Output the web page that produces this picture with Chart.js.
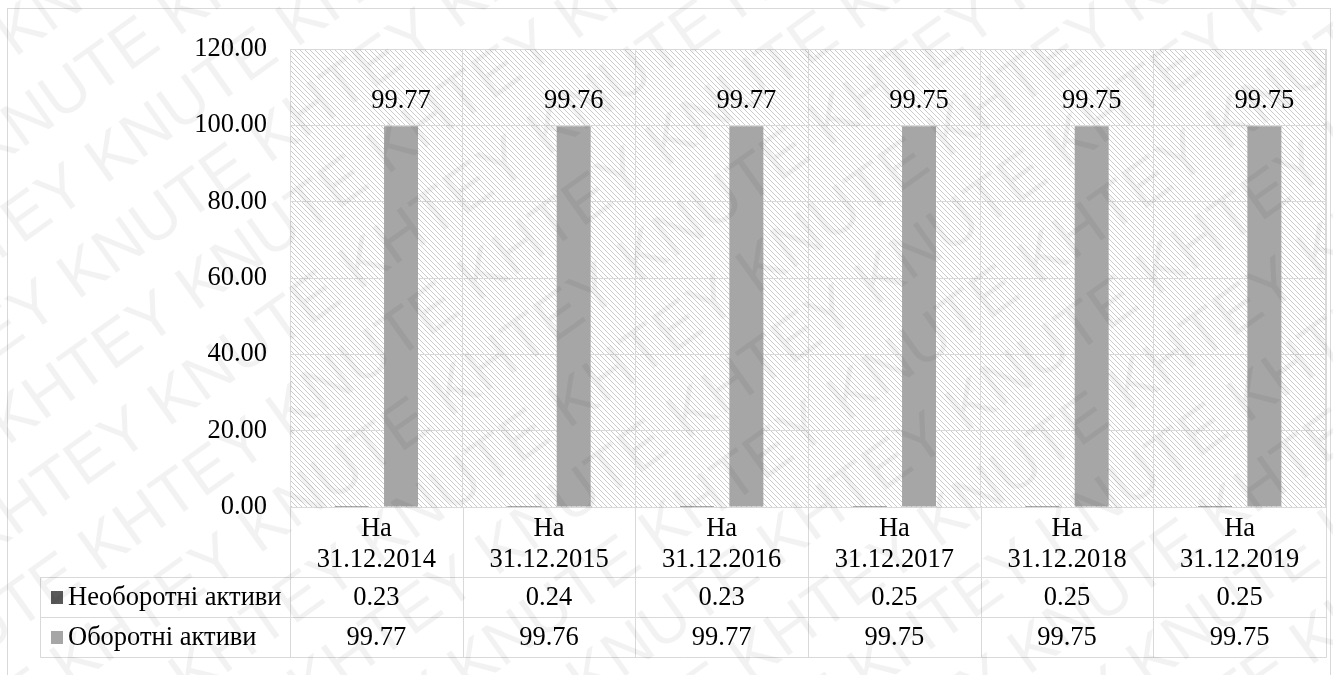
<!DOCTYPE html>
<html>
<head>
<meta charset="utf-8">
<script src="https://cdn.jsdelivr.net/npm/chart.js@4/dist/chart.umd.min.js"></script>
<style>
  html, body { margin: 0; padding: 0; background: #fff; overflow: hidden; }
  #wrap { width: 1333px; height: 675px; position: relative; }
</style>
</head>
<body>
<div id="wrap"><canvas id="chart"></canvas></div>
<script>
// Data
const categories = [
  ["На", "31.12.2014"], ["На", "31.12.2015"], ["На", "31.12.2016"],
  ["На", "31.12.2017"], ["На", "31.12.2018"], ["На", "31.12.2019"]
];
const seriesNames = ["Необоротні активи", "Оборотні активи"];
const nonCurrent = [0.23, 0.24, 0.23, 0.25, 0.25, 0.25];
const current = [99.77, 99.76, 99.77, 99.75, 99.75, 99.75];
const yMin = 0, yMax = 120, yStep = 20;

// Style
const FONT = "'Liberation Serif', 'Times New Roman', serif";
const FONT_SIZE = 26.5;
const GRID = "#d9d9d9";
const DARK = "#595959";
const LIGHT = "#a6a6a6";
const TABLE_LEFT = 40;
const ROW_LINES = [577, 617, 657];

const line = (ctx, x1, y1, x2, y2) => {
  ctx.beginPath();
  ctx.moveTo(x1, y1);
  ctx.lineTo(x2, y2);
  ctx.stroke();
};
const crisp = (v) => Math.round(v) + 0.5;

const makeHatch = () => {
  const c = document.createElement("canvas");
  c.width = 5; c.height = 5;
  const g = c.getContext("2d");
  g.fillStyle = "#ffffff";
  g.fillRect(0, 0, 5, 5);
  g.fillStyle = "#cbcbcb";
  for (let i = 0; i < 5; i++) g.fillRect(i, i, 1, 1);
  return c;
};

const backgroundPlugin = {
  id: "plotBackground",
  beforeDraw(chart) {
    const { ctx, chartArea: a } = chart;
    ctx.save();
    ctx.fillStyle = "#fff";
    ctx.fillRect(0, 0, chart.width, chart.height);
    ctx.fillStyle = ctx.createPattern(makeHatch(), "repeat");
    ctx.fillRect(a.left, a.top, a.right - a.left, a.bottom - a.top);
    ctx.restore();
  }
};

const labelsPlugin = {
  id: "barLabels",
  afterDatasetsDraw(chart) {
    const { ctx } = chart;
    const meta = chart.getDatasetMeta(1);
    ctx.save();
    ctx.font = `${FONT_SIZE}px ${FONT}`;
    ctx.fillStyle = "#000";
    ctx.textAlign = "center";
    ctx.textBaseline = "middle";
    meta.data.forEach((bar, i) => {
      ctx.fillText(current[i].toFixed(2), bar.x, bar.y - 25);
    });
    ctx.restore();
  }
};

const tablePlugin = {
  id: "dataTable",
  afterDraw(chart) {
    const { ctx, chartArea: a, scales: { x } } = chart;
    const half = (x.getPixelForValue(1) - x.getPixelForValue(0)) / 2;
    const edges = categories.map((_, i) => x.getPixelForValue(i) - half);
    edges.push(a.right);
    const bottom = ROW_LINES[ROW_LINES.length - 1];

    ctx.save();
    ctx.strokeStyle = GRID;
    ctx.lineWidth = 1;
    edges.forEach((px) => line(ctx, crisp(px), a.bottom, crisp(px), bottom + 0.5));
    line(ctx, crisp(a.right), a.top, crisp(a.right), a.bottom);
    ROW_LINES.forEach((py) => line(ctx, TABLE_LEFT + 0.5, py + 0.5, crisp(a.right), py + 0.5));
    line(ctx, TABLE_LEFT + 0.5, ROW_LINES[0] + 0.5, TABLE_LEFT + 0.5, bottom + 0.5);

    // outer border
    ctx.strokeRect(7.5, 8.5, 1323, 680);

    // rows
    const rows = [nonCurrent, current];
    const colors = [DARK, LIGHT];
    ctx.font = `${FONT_SIZE}px ${FONT}`;
    ctx.textBaseline = "middle";
    rows.forEach((vals, r) => {
      const cy = (ROW_LINES[r] + ROW_LINES[r + 1]) / 2 + 1;
      ctx.fillStyle = colors[r];
      ctx.fillRect(51, cy - 7, 12, 13);
      ctx.fillStyle = "#000";
      ctx.textAlign = "left";
      ctx.fillText(seriesNames[r], 68, cy);
      ctx.textAlign = "center";
      vals.forEach((v, i) => ctx.fillText(v.toFixed(2), x.getPixelForValue(i), cy));
    });
    ctx.restore();

    // watermark
    ctx.save();
    ctx.fillStyle = "rgba(0,0,0,0.05)";
    ctx.font = "64px 'Liberation Sans', sans-serif";
    ctx.textBaseline = "middle";
    ctx.translate(chart.width / 2, chart.height / 2);
    ctx.rotate(-0.62);
    const word = "KNUTE KHTEY ".repeat(8);
    for (let k = -12; k <= 12; k++) {
      ctx.fillText(word, -1300 + (k % 2) * 90, k * 78);
    }
    ctx.restore();
  }
};

new Chart(document.getElementById("chart"), {
  type: "bar",
  data: {
    labels: categories,
    datasets: [
      { label: seriesNames[0], data: nonCurrent, backgroundColor: DARK,
        categoryPercentage: 0.572, barPercentage: 0.688 },
      { label: seriesNames[1], data: current, backgroundColor: LIGHT,
        categoryPercentage: 0.572, barPercentage: 0.688 }
    ]
  },
  options: {
    responsive: true,
    maintainAspectRatio: false,
    animation: false,
    layout: { padding: { top: 49, right: 7, bottom: 0, left: 0 } },
    scales: {
      x: {
        afterFit: (s) => { s.height = 168; },
        grid: { color: GRID, drawTicks: false },
        border: { color: GRID },
        ticks: { color: "#000", padding: 7, maxRotation: 0, autoSkip: false,
          font: { family: FONT, size: FONT_SIZE, lineHeight: 1.15 } }
      },
      y: {
        min: yMin,
        max: yMax,
        afterFit: (s) => { s.width = 290; },
        grid: { color: GRID, drawTicks: false },
        border: { color: GRID },
        ticks: { stepSize: yStep, color: "#000", padding: 23,
          font: { family: FONT, size: FONT_SIZE },
          callback: (v) => Number(v).toFixed(2) }
      }
    },
    plugins: {
      legend: { display: false },
      tooltip: { enabled: false }
    }
  },
  plugins: [backgroundPlugin, labelsPlugin, tablePlugin]
});
</script>
</body>
</html>
